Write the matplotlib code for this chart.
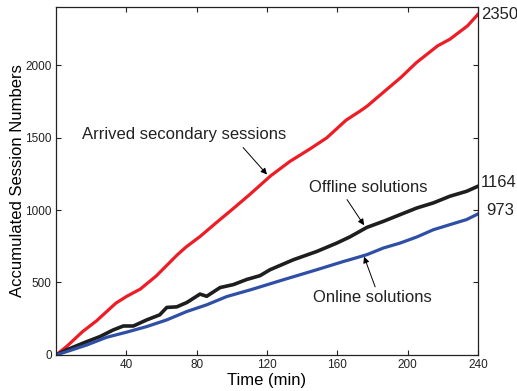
import numpy as np
import matplotlib
matplotlib.use('Agg')
import matplotlib.pyplot as plt

plt.rcParams['font.family'] = ['Liberation Sans', 'DejaVu Sans']

# cumulative session counts read at irregular times (min)
t_arr = [0, 6, 15, 23, 34, 40, 48, 57, 69, 74, 82, 91, 101, 110, 116, 122,
         133, 144, 154, 165, 173, 177, 186, 196, 205, 217, 224, 234, 240]
n_arr = [0, 58, 160, 235, 357, 403, 455, 545, 691, 745, 818, 911, 1012, 1105,
         1170, 1235, 1335, 1418, 1498, 1620, 1683, 1717, 1810, 1913, 2017,
         2132, 2178, 2270, 2350]

t_off = [0, 6, 17.5, 25, 32.6, 38.3, 44, 51.6, 59, 63, 68.7, 74.4, 81.9, 85.7,
         93.3, 101, 108.5, 116, 121.7, 135, 148.3, 159.7, 167.2, 176.8, 186.2,
         195.7, 205.2, 214.6, 224, 233.5, 240]
n_off = [0, 35, 92, 127, 173, 200, 200, 242, 277, 328, 332, 362, 420, 405,
         465, 486, 521, 547, 588, 657, 714, 772, 815, 880, 922, 968, 1014,
         1049, 1095, 1129, 1164]

t_on = [0, 6, 17.5, 28.8, 40, 51.6, 63, 74.4, 85.7, 97.1, 111.3, 129.3, 148.3,
        163.5, 167, 176.8, 186.2, 195.7, 205.2, 214.6, 224, 233.5, 240]
n_on = [0, 23, 69, 122, 157, 196, 242, 300, 346, 403, 452, 519, 588, 645,
        657, 692, 738, 772, 814, 864, 899, 934, 973]

x_ticks = [40, 80, 120, 160, 200, 240]
y_ticks = [0, 500, 1000, 1500, 2000]

ROJO, NEGRO, AZUL = '#ee1c25', '#1e1e1e', '#2f4fa6'

fig = plt.figure(figsize=(5.17, 3.91), dpi=100)
ax = fig.add_axes([0.1083, 0.0921, 0.8163, 0.8899])

ax.plot(t_arr, n_arr, color=ROJO, lw=2.3)
ax.plot(t_off, n_off, color=NEGRO, lw=2.6)
ax.plot(t_on, n_on, color=AZUL, lw=2.3)

ax.set_xlim(0, 240)
ax.set_ylim(0, 2400)
ax.set_xticks(x_ticks)
ax.set_yticks(y_ticks)
ax.tick_params(direction='in', length=3.5, width=0.8, labelsize=8.5,
               top=True, right=True, colors='#222222', pad=3)
for s in ax.spines.values():
    s.set_linewidth(0.9)
    s.set_color('#222222')

ax.set_xlabel('Time (min)', fontsize=12, labelpad=1)
ax.set_ylabel('Accumulated Session Numbers', fontsize=12, labelpad=0)

# curve annotations
flecha = dict(arrowstyle='-|>', lw=0.7, color='k', mutation_scale=9,
              shrinkA=0, shrinkB=0)
ax.text(14.8, 1521, 'Arrived secondary sessions', fontsize=12,
        va='center', ha='left', color='#222222')
ax.annotate('', xy=(120, 1245), xytext=(106.4, 1431), arrowprops=flecha)

ax.text(143.9, 1155, 'Offline solutions', fontsize=12,
        va='center', ha='left', color='#222222')
ax.annotate('', xy=(175.2, 895), xytext=(165.5, 1072), arrowprops=flecha)

ax.text(146, 394, 'Online solutions', fontsize=12,
        va='center', ha='left', color='#222222')
ax.annotate('', xy=(175.2, 678), xytext=(181.5, 470), arrowprops=flecha)

# final values at the right edge
for v, dx, dy in [(n_arr[-1], 2, 0), (n_off[-1], 2, 2.5), (n_on[-1], 6, 2.5)]:
    ax.annotate(str(v), xy=(240, v), xytext=(dx, dy),
                textcoords='offset points', va='center', ha='left',
                fontsize=12, color='#222222', annotation_clip=False)

fig.savefig('out.png', dpi=100)
